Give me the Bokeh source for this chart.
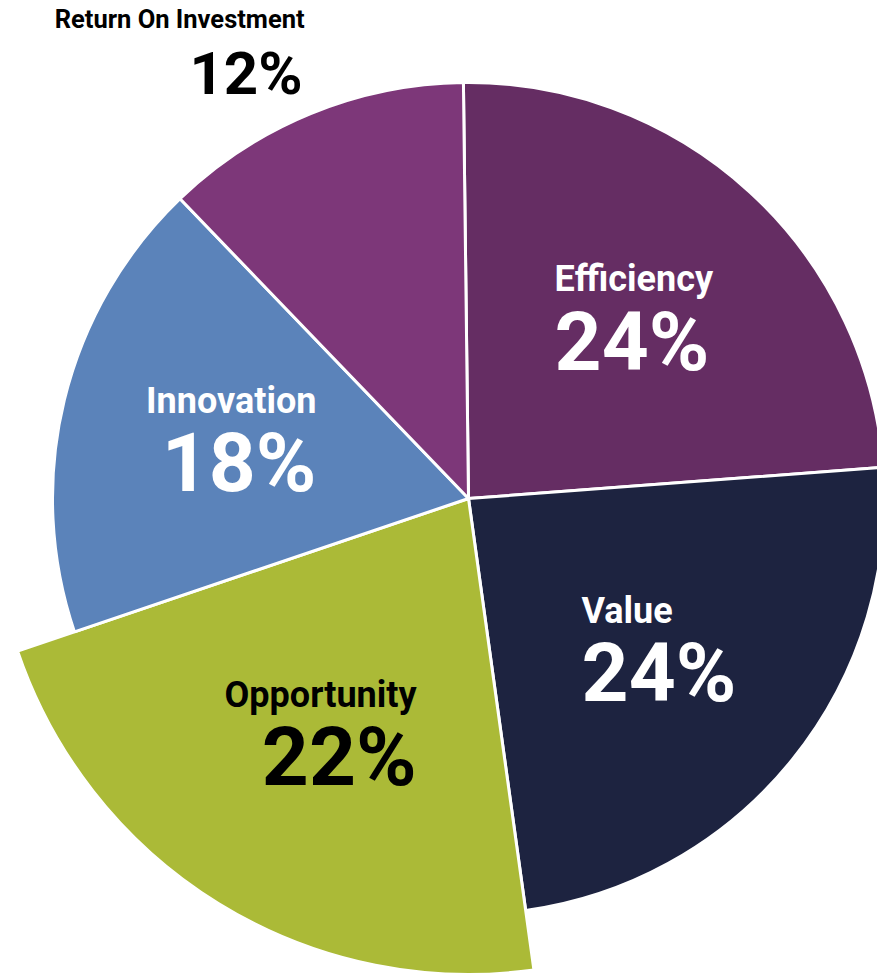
import math
from bokeh.plotting import figure
from bokeh.models import Range1d, ColumnDataSource
from bokeh.core.properties import value
from bokeh.embed import file_html
from bokeh.resources import INLINE

# ---- data ----
names = ["Efficiency", "Value", "Opportunity", "Innovation", "Return On Investment"]
shares = [24, 24, 22, 18, 12]
highlight = ["Opportunity"]          # slice drawn with a larger radius
outside = ["Return On Investment"]   # label placed outside the pie

# ---- style ----
colors = ["#652D63", "#1D2340", "#ABBA37", "#5B83BA", "#7D3779"]
W, H = 877, 975
CX, CY = 468, 477          # pie centre (data units = pixels, y up)
R = 416
R_BIG = 476
START_DEG = 90.7
FONT = value("Roboto")
NAME_SIZE = 36
PCT_SIZE = 82
SHIFT = 0.34               # baseline compensation (em)

p = figure(width=W, height=H, output_backend="svg", toolbar_location=None,
           x_range=Range1d(0, W), y_range=Range1d(0, H), min_border=0)
p.axis.visible = False
p.grid.visible = False
p.outline_line_color = None
p.background_fill_color = "white"
p.border_fill_color = "white"

total = sum(shares)
cum = 0
starts, ends, radii = [], [], []
for n, v in zip(names, shares):
    a0 = START_DEG - cum / total * 360
    cum += v
    a1 = START_DEG - cum / total * 360
    starts.append(math.radians(a1))
    ends.append(math.radians(a0))
    radii.append(R_BIG if n in highlight else R)

src = ColumnDataSource(dict(x=[CX] * len(names), y=[CY] * len(names), r=radii,
                            s=starts, e=ends, c=colors))
p.wedge(x="x", y="y", radius="r", start_angle="s", end_angle="e", fill_color="c",
        line_color="white", line_width=3, source=src)


def lum(hexc):
    r, g, b = (int(hexc[i:i + 2], 16) for i in (1, 3, 5))
    return 0.299 * r + 0.587 * g + 0.114 * b


# approximate Roboto Bold advance widths (em)
ADV = {"E": 0.508, "V": 0.64, "O": 0.68, "I": 0.287, "R": 0.62,
       "a": 0.53, "c": 0.523, "e": 0.529, "f": 0.35, "i": 0.257, "l": 0.257,
       "n": 0.548, "o": 0.56, "p": 0.56, "r": 0.35, "s": 0.515, "t": 0.338,
       "u": 0.548, "v": 0.49, "y": 0.49, "m": 0.87, "%": 0.73, " ": 0.25}


def est_width(txt, size):
    return sum(ADV.get(ch, 0.5615) for ch in txt) * size


def label(x, y, txt, align, size, col):
    p.text(x=[x], y=[y + SHIFT * size], text=[txt], text_align=align,
           text_baseline="alphabetic", text_font=FONT, text_font_style="bold",
           text_font_size=f"{size}px", text_color=col)


for n, v, s, e, r, c in zip(names, shares, starts, ends, radii, colors):
    mid = (s + e) / 2
    pct = f"{v}%"
    if n in outside:
        ax = CX + r * math.cos(mid) - 8
        ay = CY + r * math.sin(mid) + 20
        label(ax, ay, pct, "right", 60, "black")
        label(ax + 2, ay + 66, n, "right", 25.5, "black")
        continue
    bx = CX + 0.584 * r * math.cos(mid)
    by = CY + 0.584 * r * math.sin(mid)
    col = "black" if lum(c) > 140 else "white"
    w = max(est_width(n, NAME_SIZE), est_width(pct, PCT_SIZE))
    if math.cos(mid) >= 0:
        x, align = bx - w / 2, "left"
    else:
        x, align = bx + w / 2, "right"
    label(x, by + 28, n, align, NAME_SIZE, col)
    label(x, by - 50, pct, align, PCT_SIZE, col)

open("out.html", "w").write(file_html(p, INLINE))
